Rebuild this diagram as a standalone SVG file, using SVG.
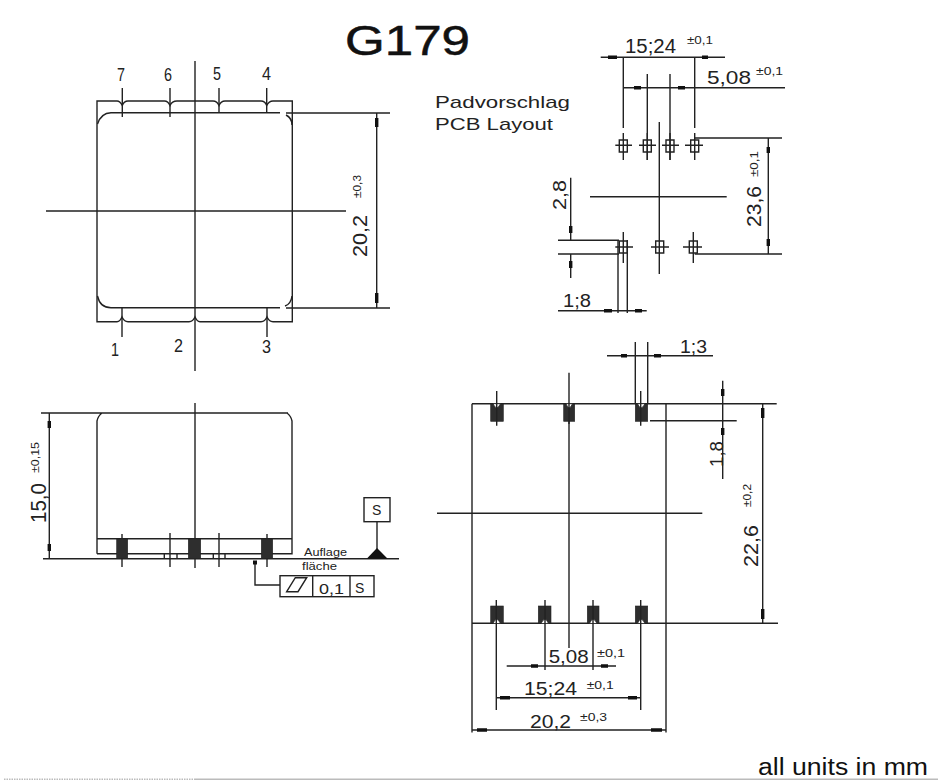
<svg xmlns="http://www.w3.org/2000/svg" width="938" height="780" viewBox="0 0 938 780">
<style>
text{font-family:"Liberation Sans",Arial,sans-serif;fill:#222}
.l{fill:none;stroke:#222;stroke-width:1.4}
.b{fill:none;stroke:#111;stroke-width:3.4}
.p{fill:#2e2e2e;stroke:#222;stroke-width:.6}
.n{fill:#fff;stroke:#222;stroke-width:.8}
.w{fill:#fff;stroke:#222;stroke-width:1.4}
</style>
<rect width="938" height="780" fill="#fff"/>
<g id="title"><text x="345" y="55" font-size="43" textLength="125" lengthAdjust="spacingAndGlyphs" style="fill:#111;stroke:#111;stroke-width:.5">G179</text></g>
<g id="top-view">
<path class="l" d="M97 123V101H117Q120 101 122.300 105.500Q124 101 128 101H164.500Q168 101 170 105.500Q172 101 177 101H213Q217 101 219 105.500Q221 101 225 101H261Q265 101 266.700 105.500Q269 101 273 101H292.300V321.700H273Q269 321.700 267 317Q265 321.700 261 321.700H200Q197 321.700 195 317Q193 321.700 189 321.700H128Q124 321.700 122 317Q120 321.700 117 321.700H97V101"/>
<path class="l" d="M97.500 124Q101 113 111 112.700H280M286 115Q292 118 292 125M97.500 296Q100 307.700 111 307.700H280M285 306Q291 304 292 296"/>
<path class="l" d="M195 61V371M46 211H346M122.300 88V117M170 88V117M219 88V112.700M266.700 88V112.700M122 307.700V337M267 307.700V337"/>
<path class="l" d="M286 113H390M286 308H390M376.700 113V308"/>
<path class="b" d="M376.700 118V127M376.700 293V303"/>
<text x="117" y="81" font-size="19" textLength="8" lengthAdjust="spacingAndGlyphs">7</text>
<text x="164" y="81" font-size="19" textLength="8" lengthAdjust="spacingAndGlyphs">6</text>
<text x="213" y="80" font-size="19" textLength="8" lengthAdjust="spacingAndGlyphs">5</text>
<text x="262" y="80" font-size="19" textLength="9" lengthAdjust="spacingAndGlyphs">4</text>
<text x="111" y="356" font-size="19" textLength="8" lengthAdjust="spacingAndGlyphs">1</text>
<text x="174" y="352" font-size="19" textLength="9" lengthAdjust="spacingAndGlyphs">2</text>
<text x="262" y="353" font-size="19" textLength="9" lengthAdjust="spacingAndGlyphs">3</text>
<text transform="translate(367 257) rotate(-90)" font-size="20" textLength="42" lengthAdjust="spacingAndGlyphs">20,2</text>
<text transform="translate(360.700 198) rotate(-90)" font-size="10" textLength="23" lengthAdjust="spacingAndGlyphs">±0,3</text>
</g>
<g id="side-view">
<path class="l" d="M97 553.700V421Q98 416 102 413M287 413Q291 416 292 421V553.700H97M97 538.700H292M41 413H288M43 558.700H399M49.300 413V558.700M195 403V568M122 534V567M267 534V567M170 533V567M219 533V567M164.300 553.700V558.700M177 553.700V558.700M213.300 553.700V558.700M225 553.700V558.700"/>
<rect class="p" x="116.700" y="539" width="11" height="19.700"/>
<rect class="p" x="188.300" y="539" width="12.400" height="19.700"/>
<rect class="p" x="261.300" y="539" width="11.400" height="19.700"/>
<path class="b" d="M49.300 421V428M49.300 544V551"/>
<text transform="translate(46 523) rotate(-90)" font-size="22" textLength="40" lengthAdjust="spacingAndGlyphs">15,0</text>
<text transform="translate(39 473) rotate(-90)" font-size="10" textLength="31" lengthAdjust="spacingAndGlyphs">±0,15</text>
<text x="304" y="556" font-size="10" textLength="43" lengthAdjust="spacingAndGlyphs">Auflage</text>
<text x="302" y="570" font-size="10" textLength="35" lengthAdjust="spacingAndGlyphs">fläche</text>
</g>
<g id="datum-s">
<rect class="w" x="364" y="497.700" width="26" height="24"/>
<text x="372" y="515" font-size="14">S</text>
<path class="l" d="M377 521.700V549"/>
<path d="M377 548L387.700 558.700H366.700Z" fill="#111"/>
</g>
<g id="tolerance-frame">
<path class="l" d="M255 563V585H280"/>
<rect x="253" y="560.500" width="4" height="4" fill="#111"/>
<rect class="w" x="280" y="575.700" width="94" height="21"/>
<path class="l" d="M312.700 575.700V596.700M350 575.700V596.700M286.700 591.700L295.300 577.700H306.700L298 591.700Z"/>
<text x="319" y="594" font-size="15" textLength="25" lengthAdjust="spacingAndGlyphs">0,1</text>
<text x="355" y="593" font-size="14">S</text>
</g>
<g id="pcb-label">
<text x="435" y="108" font-size="17" textLength="135" lengthAdjust="spacingAndGlyphs">Padvorschlag</text>
<text x="435" y="130" font-size="17" textLength="118" lengthAdjust="spacingAndGlyphs">PCB Layout</text>
</g>
<g id="pcb-layout">
<path class="l" d="M600.700 57.300H725M623.300 57.300V128M694.700 57.300V128M647.300 74V160M670 74V160M623.300 87.700H785M659.300 122V274M590 196.700H726.700M694.700 138H782M694.700 254H782M768.300 138V254M558 240.300H619M558 254H619M570.700 177.700V240.300M570.700 254V278M618 240V313M627.300 240V313M558 310.700H646.700"/>
<path class="l" d="M619.300 140H627.300V152H619.300ZM643.300 140H651.300V152H643.300ZM666 140H674V152H666ZM690.700 140H698.700V152H690.700ZM619.300 241H627.300V253H619.300ZM655.700 241H663.700V253H655.700ZM689.300 241H697.300V253H689.300Z"/>
<path class="l" d="M615.300 145.300H632M623.300 133V160M639 145.300H656M647.300 160V133M662 145.300H679M670 133V160M685 145.300H703M694.700 133V160M615.300 247H633M623.300 232V263M651 247H669M683 247H702M693.300 232V263"/>
<path class="b" d="M608 57.300H617M702 57.300H708M634 87.700H641M678 87.700H685M768.300 147V153M768.300 239V246M570.700 226V233M570.700 261V268M604 310.700H612M635 310.700H642"/>
<text x="625" y="53" font-size="20" textLength="51" lengthAdjust="spacingAndGlyphs">15;24</text>
<text x="687" y="44" font-size="10" textLength="26" lengthAdjust="spacingAndGlyphs">±0,1</text>
<text x="707" y="84" font-size="19" textLength="44" lengthAdjust="spacingAndGlyphs">5,08</text>
<text x="756" y="75" font-size="10" textLength="27" lengthAdjust="spacingAndGlyphs">±0,1</text>
<text transform="translate(566 210) rotate(-90)" font-size="19" textLength="30" lengthAdjust="spacingAndGlyphs">2,8</text>
<text x="563" y="307" font-size="18" textLength="28" lengthAdjust="spacingAndGlyphs">1;8</text>
<text transform="translate(761 227) rotate(-90)" font-size="20" textLength="41" lengthAdjust="spacingAndGlyphs">23,6</text>
<text transform="translate(758 177) rotate(-90)" font-size="10" textLength="26" lengthAdjust="spacingAndGlyphs">±0,1</text>
</g>
<g id="front-view">
<path class="l" d="M472 403.700H776.700M472 403.700V732.600M666 403.700V732.600M472 623.300H778M569 372.700V648M437 513.300H702.300M635.300 342V404M647.700 342V404M607 355.700H713M650 420.700H736.700M722.700 380.700V479M762.700 403.700V623.300M506.700 666H616M496.300 697.700H640.700M472 730H666"/>
<rect class="p" x="490.700" y="404" width="12.600" height="17.300"/>
<rect class="p" x="563.700" y="404" width="11" height="17.300"/>
<rect class="p" x="635.300" y="404" width="12.400" height="17.300"/>
<rect class="p" x="490.700" y="606" width="12.600" height="17.300"/>
<rect class="p" x="538.300" y="606" width="12.700" height="17.300"/>
<rect class="p" x="587.300" y="606" width="11.700" height="17.300"/>
<rect class="p" x="635.300" y="606" width="12.400" height="17.300"/>
<path class="n" d="M493 403.700Q496.700 412 500.500 403.700ZM566 403.700Q569 412 572.500 403.700ZM637.500 403.700Q641 412 645 403.700ZM493 623.500Q496.500 615 500.500 623.500ZM541 623.500Q545 615 548.500 623.500ZM589.500 623.500Q593 615 597 623.500ZM637.500 623.500Q641 615 645 623.500Z"/>
<path class="l" d="M496.700 391V425.700M640.700 391V425.700M569 403V424M496.300 600V710M545 600V670M593 600V670M640.700 600V710"/>
<path class="b" d="M621 355.700H627M654 355.700H661M722.700 389V396M722.700 428V435M762.700 408V418M762.700 609V619M531 666H538M601 666H608M500 697.700H510M628 697.700H637M477 730H487M651 730H662"/>
<text x="680" y="353" font-size="19" textLength="27" lengthAdjust="spacingAndGlyphs">1;3</text>
<text transform="translate(722.700 467) rotate(-90)" font-size="19" textLength="26" lengthAdjust="spacingAndGlyphs">1,8</text>
<text transform="translate(758 567) rotate(-90)" font-size="20" textLength="42" lengthAdjust="spacingAndGlyphs">22,6</text>
<text transform="translate(750.700 507) rotate(-90)" font-size="10" textLength="23" lengthAdjust="spacingAndGlyphs">±0,2</text>
<text x="548.700" y="663" font-size="19" textLength="40" lengthAdjust="spacingAndGlyphs">5,08</text>
<text x="597" y="657" font-size="10" textLength="28" lengthAdjust="spacingAndGlyphs">±0,1</text>
<text x="524" y="695" font-size="19" textLength="53" lengthAdjust="spacingAndGlyphs">15;24</text>
<text x="586.700" y="689" font-size="10" textLength="27" lengthAdjust="spacingAndGlyphs">±0,1</text>
<text x="530" y="728" font-size="19" textLength="41" lengthAdjust="spacingAndGlyphs">20,2</text>
<text x="580" y="721" font-size="10" textLength="27" lengthAdjust="spacingAndGlyphs">±0,3</text>
</g>
<g id="units-note"><text x="758" y="775" font-size="23.500" textLength="170" lengthAdjust="spacingAndGlyphs" style="fill:#111">all units in mm</text></g>
<g id="page-edge">
<path d="M4 779.300H195" fill="none" stroke="#bbb" stroke-width="1.4" stroke-dasharray="1.5 1"/>
<path d="M195 779.300H938" fill="none" stroke="#bbb" stroke-width="1.4"/>
</g>
</svg>
